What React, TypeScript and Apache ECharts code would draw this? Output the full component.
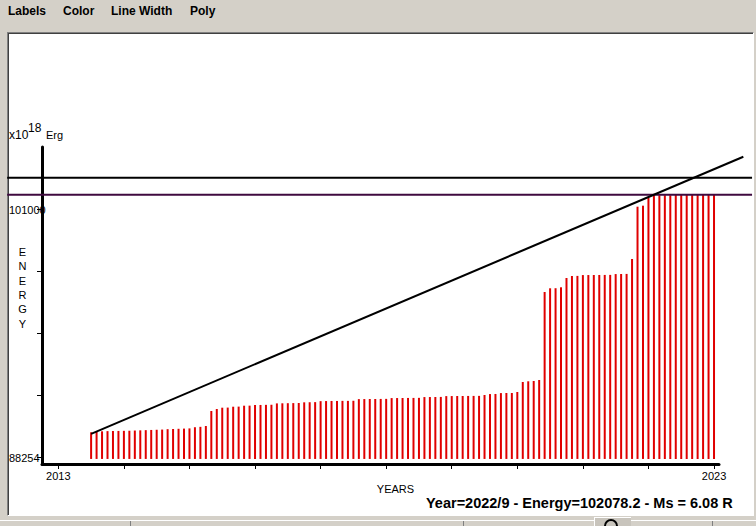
import React, { useEffect, useRef } from 'react';
import * as echarts from 'echarts';

// ---- texts ----
const MENU_ITEMS = ['Labels', 'Color', 'Line Width', 'Poly'];
const INFO_TEXT = 'Year=2022/9 - Energy=102078.2 - Ms = 6.08 R';

// ---- axes ----
const X_TICK_YEARS = [2013, 2014, 2015, 2016, 2017, 2018, 2019, 2020, 2021, 2022, 2023];
const X_LABEL_YEARS = [2013, 2023];
const Y_TICKS = [88254, 91440.5, 94627, 97813.5, 101000];
const Y_LABELS = [88254, 101000];

// ---- data (x10^18 erg), one bar per month starting July 2013 ----
const FIRST_BAR_YEAR = 2013.5;
const ENERGY = [
  89560, 89590, 89610, 89620, 89625, 89630, 89635, 89640, 89650, 89660,
  89670, 89680, 89690, 89700, 89720, 89730, 89740, 89750, 89760, 89820,
  89840, 89883, 90654, 90757, 90824, 90830, 90875, 90880, 90927, 90930,
  90960, 90965, 90970, 90975, 91045, 91050, 91055, 91060, 91065, 91100,
  91105, 91110, 91160, 91165, 91170, 91170, 91175, 91175, 91180, 91265,
  91268, 91270, 91272, 91275, 91278, 91318, 91320, 91322, 91325, 91327,
  91330, 91370, 91372, 91375, 91378, 91420, 91422, 91424, 91426, 91428,
  91430, 91432, 91477, 91525, 91530, 91575, 91580, 91585, 91631, 92145,
  92181, 92196, 92248, 96771, 96961, 96965, 97013, 97491, 97593, 97598,
  97640, 97642, 97644, 97646, 97648, 97650, 97692, 97696, 97700, 98467,
  101155, 101207, 101618, 101740, 101742, 101745, 101748, 101750, 101752, 101754,
  101756, 101758, 101760, 101762, 101764,
];
const BAR_BASE = 88190;

// reference levels
const UPPER_LEVEL = 102646;
const MAX_LEVEL = 101772;
const LEVEL_X = [2012.22, 2023.58];
// trend line
const TREND_X = [2013.5, 2023.447];
const TREND_Y = [89480, 103724];

const FONT = 'Liberation Sans, Arial, sans-serif';

function segmentSeries(x0: number, y0: number, x1: number, y1: number, color: string, z: number) {
  return {
    type: 'custom',
    z,
    silent: true,
    clip: false,
    encode: { x: [0, 2], y: [1, 3] },
    data: [[x0, y0, x1, y1]],
    renderItem: (params: any, api: any) => {
      const a = api.coord([api.value(0), api.value(1)]);
      const b = api.coord([api.value(2), api.value(3)]);
      return {
        type: 'line',
        shape: { x1: a[0], y1: a[1], x2: b[0], y2: b[1] },
        style: { stroke: color, lineWidth: 2 },
      };
    },
  };
}

export default function App() {
  const ref = useRef<HTMLDivElement>(null);

  useEffect(() => {
    if (!ref.current) return;
    const chart = echarts.init(ref.current, undefined, { renderer: 'svg' });

    const barData = ENERGY.map((v, i) => [FIRST_BAR_YEAR + i / 12, v]);

    const menuX = [8, 63, 111, 190];
    const graphics: any[] = MENU_ITEMS.map((t, i) => ({
      type: 'text',
      x: menuX[i],
      y: 11,
      z: 100,
      style: { text: t, fill: '#000', font: `bold 12px ${FONT}`, align: 'left', verticalAlign: 'middle' },
    }));
    graphics.push(
      { type: 'text', x: 9, y: 135, z: 100, style: { text: 'x10', fill: '#000', font: `12px ${FONT}`, align: 'left', verticalAlign: 'middle' } },
      { type: 'text', x: 28, y: 128, z: 100, style: { text: '18', fill: '#000', font: `12px ${FONT}`, align: 'left', verticalAlign: 'middle' } },
      { type: 'text', x: 46, y: 135, z: 100, style: { text: 'Erg', fill: '#000', font: `11px ${FONT}`, align: 'left', verticalAlign: 'middle' } },
      { type: 'text', x: 22.5, y: 245, z: 100, style: { text: 'E\nN\nE\nR\nG\nY', fill: '#000', font: `11px ${FONT}`, lineHeight: 14.3, align: 'center', verticalAlign: 'top' } },
      { type: 'text', x: 395.5, y: 489, z: 100, style: { text: 'YEARS', fill: '#000', font: `11px ${FONT}`, align: 'center', verticalAlign: 'middle' } },
      { type: 'text', x: 426, y: 503, z: 100, style: { text: INFO_TEXT, fill: '#000', font: `bold 14.5px ${FONT}`, align: 'left', verticalAlign: 'middle' } },
    );

    chart.setOption({
      animation: false,
      backgroundColor: 'transparent',
      grid: { left: 42, top: 147, width: 677, height: 317, containLabel: false },
      xAxis: {
        type: 'value',
        min: 2012.751,
        max: 2023.076,
        axisLine: { show: true, onZero: false, lineStyle: { color: '#000', width: 3 } },
        axisTick: { show: true, customValues: X_TICK_YEARS, length: 5, lineStyle: { color: '#000', width: 1 } },
        axisLabel: {
          show: true,
          customValues: X_LABEL_YEARS,
          margin: 6,
          color: '#000',
          fontSize: 11,
          fontFamily: FONT,
          formatter: (v: number) => String(Math.round(v)),
        },
        splitLine: { show: false },
      },
      yAxis: {
        type: 'value',
        min: 87930,
        max: 104223,
        axisLine: { show: true, onZero: false, lineStyle: { color: '#000', width: 3 } },
        axisTick: { show: true, customValues: Y_TICKS, length: 5, lineStyle: { color: '#000', width: 1 } },
        axisLabel: {
          show: true,
          customValues: Y_LABELS,
          margin: 33,
          align: 'left',
          color: '#000',
          fontSize: 11,
          fontFamily: FONT,
          formatter: (v: number) => String(Math.round(v)),
        },
        splitLine: { show: false },
      },
      graphic: graphics,
      series: [
        {
          type: 'custom',
          z: 2,
          encode: { x: 0, y: 1 },
          data: barData,
          renderItem: (params: any, api: any) => {
            const x = api.value(0);
            const v = api.value(1);
            const top = api.coord([x, v]);
            const base = api.coord([x, BAR_BASE]);
            return {
              type: 'rect',
              shape: { x: top[0] - 1, y: top[1], width: 2, height: base[1] - top[1] },
              style: { fill: '#e00000' },
            };
          },
        },
        segmentSeries(LEVEL_X[0], UPPER_LEVEL, LEVEL_X[1], UPPER_LEVEL, '#000000', 4),
        segmentSeries(LEVEL_X[0], MAX_LEVEL, LEVEL_X[1], MAX_LEVEL, '#3f0a3f', 4),
        segmentSeries(TREND_X[0], TREND_Y[0], TREND_X[1], TREND_Y[1], '#000000', 5),
      ],
    });

    return () => chart.dispose();
  }, []);

  return (
    <div
      style={{
        position: 'fixed',
        left: 0,
        top: 0,
        width: 756,
        height: 526,
        background: '#D4D0C8',
        overflow: 'hidden',
      }}
    >
      {/* sunken white plotting panel */}
      <div
        style={{
          position: 'absolute',
          left: 7,
          top: 32,
          width: 747,
          height: 484,
          boxSizing: 'border-box',
          background: '#fff',
          borderTop: '1px solid #808080',
          borderLeft: '1px solid #808080',
          borderRight: '1px solid #ffffff',
          borderBottom: '1px solid #ffffff',
          boxShadow: 'inset 1px 1px 0 #404040',
        }}
      />
      {/* status bar pieces */}
      <div style={{ position: 'absolute', left: 0, top: 520, width: 756, height: 1, background: '#ffffff' }} />
      <div style={{ position: 'absolute', left: 130, top: 521, width: 1, height: 5, background: '#808080' }} />
      <div style={{ position: 'absolute', left: 463, top: 521, width: 1, height: 5, background: '#808080' }} />
      <div style={{ position: 'absolute', left: 594, top: 517, width: 36, height: 9, background: '#c8c4bc', borderLeft: '1px solid #fff', borderTop: '1px solid #fff' }} />
      <div style={{ position: 'absolute', left: 604, top: 519, width: 14, height: 14, borderRadius: 8, border: '2px solid #000', boxSizing: 'border-box' }} />
      <div style={{ position: 'absolute', left: 712, top: 521, width: 1, height: 5, background: '#808080' }} />
      <div ref={ref} style={{ position: 'absolute', left: 0, top: 0, width: 756, height: 526 }} />
    </div>
  );
}
